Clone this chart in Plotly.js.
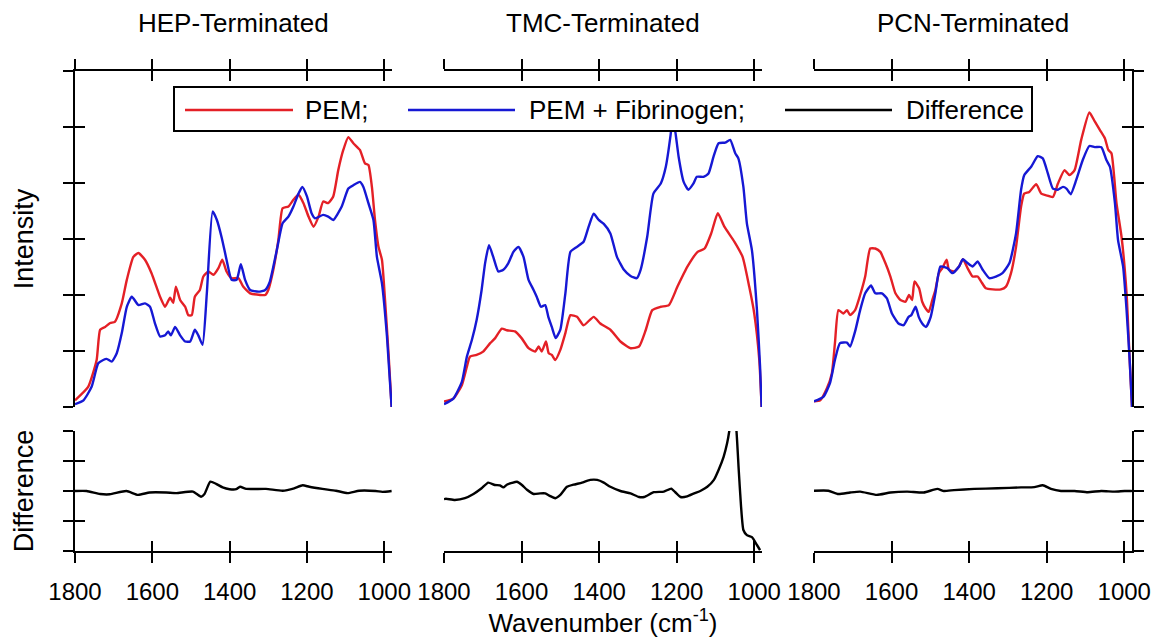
<!DOCTYPE html>
<html>
<head>
<meta charset="utf-8">
<script src="https://cdn.plot.ly/plotly-3.0.1.min.js"></script>
<style>html,body{margin:0;padding:0;background:#fff;}#chart{width:1158px;height:640px;}</style>
</head>
<body>
<div id="chart"></div>
<script>
// ---------- data ----------
const panelTitles = ["HEP-Terminated", "TMC-Terminated", "PCN-Terminated"];
const seriesNames = ["PEM;", "PEM + Fibrinogen;", "Difference"];
const xTickVals = [1800, 1600, 1400, 1200, 1000];
const xTickText = ["1800", "1600", "1400", "1200", "1000"];

const hepPemWn = [1800,1766,1744,1735,1722,1709,1697,1679,1666,1649,1636,1619,1602,1580,1567,1554,1546,1539,1528,1515,1507,1498,1490,1477,1468,1455,1442,1429,1419,1408,1395,1377,1365,1347,1321,1308,1300,1287,1274,1263,1248,1235,1222,1209,1196,1183,1170,1158,1145,1132,1119,1106,1093,1080,1063,1050,1041,1032,1024,1015,1006,998,989,981];
const hepPem = [0.12,0.36,0.84,1.38,1.43,1.50,1.52,1.85,2.27,2.68,2.75,2.63,2.39,1.97,1.79,1.95,1.86,2.15,1.91,1.79,1.64,1.64,1.97,2.09,2.33,2.42,2.36,2.48,2.63,2.42,2.30,2.30,2.15,2.03,2.00,2.00,2.09,2.45,2.98,3.55,3.58,3.70,3.79,3.64,3.40,3.22,3.40,3.67,3.64,3.76,4.23,4.59,4.82,4.71,4.59,4.35,4.32,3.93,3.34,2.86,2.63,1.91,0.96,0.0];
const hepFibWn = [1800,1778,1757,1740,1727,1718,1705,1692,1679,1666,1653,1636,1619,1606,1593,1580,1567,1559,1552,1541,1528,1515,1502,1490,1481,1470,1459,1444,1433,1420,1408,1395,1382,1371,1360,1347,1325,1308,1296,1278,1263,1248,1235,1222,1212,1200,1188,1179,1158,1145,1132,1110,1093,1080,1063,1054,1041,1028,1019,1006,993,981];
const hepFib = [0.05,0.12,0.36,0.78,0.84,0.86,0.81,0.96,1.32,1.79,1.97,1.82,1.85,1.79,1.49,1.26,1.28,1.35,1.28,1.43,1.28,1.17,1.17,1.38,1.28,1.11,2.03,3.49,3.34,3.01,2.63,2.27,2.27,2.55,2.27,2.09,2.06,2.09,2.24,2.80,3.28,3.40,3.58,3.81,3.93,3.76,3.46,3.37,3.43,3.40,3.34,3.58,3.90,3.96,4.02,3.93,3.64,3.34,2.68,2.21,1.26,0.0];
const hepDiffWn = [1800,1770,1735,1710,1667,1637,1607,1564,1538,1495,1474,1465,1450,1435,1418,1400,1383,1373,1357,1306,1263,1233,1211,1194,1160,1125,1095,1065,1022,1005,981];
const hepDiff = [0,0,-0.1,-0.11,0,-0.13,-0.05,-0.05,-0.07,-0.02,-0.19,-0.1,0.31,0.24,0.12,0.06,0.06,0.14,0.07,0.07,0.01,0.09,0.19,0.14,0.07,0.01,-0.07,0.01,0,-0.03,0];

const tmcPemWn = [1800,1776,1754,1741,1733,1716,1699,1681,1668,1651,1638,1617,1600,1582,1565,1556,1548,1537,1530,1522,1513,1500,1487,1474,1457,1440,1414,1397,1371,1345,1319,1297,1280,1263,1241,1220,1198,1172,1146,1128,1111,1094,1077,1051,1030,1013,1000,987,981];
const tmcPem = [0.10,0.15,0.39,0.72,0.90,0.93,0.99,1.14,1.23,1.40,1.37,1.35,1.23,1.05,0.99,1.08,0.99,1.17,0.96,0.93,0.84,1.02,1.32,1.64,1.61,1.46,1.61,1.49,1.38,1.17,1.05,1.08,1.37,1.73,1.79,1.82,2.15,2.51,2.77,2.83,3.10,3.46,3.22,2.95,2.68,2.15,1.67,0.84,0.0];
const tmcFibWn = [1800,1776,1754,1741,1728,1716,1703,1694,1684,1673,1660,1647,1634,1621,1608,1595,1582,1569,1561,1550,1539,1531,1522,1512,1500,1487,1474,1457,1440,1427,1414,1401,1388,1371,1354,1336,1319,1303,1293,1276,1260,1241,1228,1216,1210,1202,1195,1182,1170,1157,1148,1131,1118,1105,1092,1075,1062,1049,1041,1028,1019,1006,993,985,981];
const tmcFib = [0.05,0.15,0.45,0.90,1.20,1.55,2.09,2.57,2.89,2.68,2.42,2.45,2.57,2.77,2.86,2.68,2.27,2.09,1.97,1.79,1.82,1.61,1.43,1.23,1.38,2.03,2.77,2.86,2.95,3.22,3.45,3.34,3.27,3.10,2.68,2.45,2.34,2.30,2.45,3.04,3.81,3.99,4.29,4.84,5.20,4.84,4.47,4.02,3.88,3.99,4.11,4.11,4.17,4.47,4.71,4.72,4.77,4.53,4.44,3.93,3.28,2.80,1.73,0.72,0.0];
const tmcDiffWn = [1800,1795,1772,1746,1724,1703,1686,1669,1656,1647,1638,1625,1612,1599,1586,1569,1552,1539,1526,1513,1500,1483,1466,1444,1423,1405,1388,1371,1345,1319,1297,1284,1259,1233,1214,1203,1190,1173,1155,1138,1121,1104,1092,1079,1070,1064,1055,1046,1040,1034,1028,1019,1006,993,985];
const tmcDiff = [-0.27,-0.26,-0.30,-0.24,-0.10,0.09,0.28,0.20,0.19,0.12,0.21,0.27,0.31,0.20,0.04,-0.10,-0.08,-0.08,-0.17,-0.24,-0.13,0.14,0.21,0.28,0.37,0.37,0.28,0.14,0,-0.08,-0.20,-0.20,-0.04,-0.02,0.08,-0.05,-0.20,-0.18,-0.08,0.01,0.14,0.37,0.70,1.14,1.59,2.03,3.0,2.03,0.70,-0.52,-1.30,-1.47,-1.54,-1.80,-1.97];

const pcnPemWn = [1800,1784,1767,1754,1746,1737,1724,1715,1707,1694,1681,1668,1655,1642,1629,1616,1603,1590,1577,1564,1555,1547,1541,1529,1521,1512,1504,1495,1487,1478,1469,1458,1452,1439,1426,1416,1404,1391,1378,1369,1357,1339,1318,1305,1292,1279,1266,1258,1245,1227,1214,1201,1184,1171,1154,1141,1128,1111,1090,1076,1063,1050,1041,1033,1020,1007,994,986,980];
const pcnPem = [0.10,0.12,0.33,0.60,1.14,1.73,1.67,1.73,1.64,1.73,2.00,2.33,2.83,2.83,2.77,2.57,2.33,2.03,1.91,1.88,2.00,1.91,2.24,2.12,1.88,1.76,1.70,1.91,2.09,2.39,2.48,2.63,2.45,2.42,2.51,2.64,2.48,2.33,2.33,2.24,2.12,2.10,2.10,2.15,2.39,2.86,3.58,3.81,3.84,3.98,3.81,3.78,3.75,3.99,4.23,4.14,4.23,4.77,5.26,5.10,4.95,4.80,4.59,4.53,3.64,3.04,2.03,0.84,0.0];
const pcnFibWn = [1800,1776,1759,1746,1733,1715,1707,1694,1681,1668,1653,1642,1625,1612,1599,1582,1569,1556,1549,1538,1530,1521,1511,1499,1487,1474,1456,1443,1426,1416,1404,1391,1378,1365,1348,1331,1314,1296,1279,1266,1258,1240,1223,1210,1197,1184,1171,1158,1149,1138,1124,1107,1090,1076,1059,1046,1037,1024,1016,1003,994,986,980];
const pcnFib = [0.10,0.18,0.42,0.84,1.14,1.15,1.08,1.35,1.73,2.03,2.17,2.03,2.03,1.94,1.67,1.49,1.46,1.61,1.64,1.79,1.61,1.49,1.43,1.61,2.03,2.51,2.48,2.39,2.51,2.64,2.57,2.51,2.60,2.45,2.30,2.33,2.39,2.57,3.10,3.88,4.14,4.29,4.48,4.44,4.17,3.90,3.88,3.93,3.90,3.80,4.05,4.41,4.66,4.64,4.64,4.41,4.29,3.64,2.98,2.51,1.73,0.84,0.0];
const pcnDiffWn = [1800,1763,1737,1707,1681,1638,1603,1560,1517,1482,1465,1439,1387,1327,1266,1232,1210,1189,1163,1128,1094,1059,1025,999,981];
const pcnDiff = [0.01,0.01,-0.10,-0.05,-0.02,-0.13,-0.05,-0.02,-0.05,0.07,0,0.03,0.07,0.09,0.12,0.13,0.19,0.07,0,0,-0.04,0,-0.02,0,0];

// ---------- styling / layout ----------
const W = 1158, H = 640;
const RED = "rgb(228,32,38)", BLUE = "rgb(22,24,212)", BLACK = "#000";
const FONT = "Arial, 'Liberation Sans', sans-serif";
const px = v => v / W;
const py = v => 1 - v / H;

const panelPx = [[75, 392], [444, 762], [814, 1132]];
const topDom = [py(407), py(71)];
const botDom = [py(551), py(431)];
const xRange = [1800, 980];

const panels = [
  {pemWn: hepPemWn, pem: hepPem, fibWn: hepFibWn, fib: hepFib, diffWn: hepDiffWn, diff: hepDiff},
  {pemWn: tmcPemWn, pem: tmcPem, fibWn: tmcFibWn, fib: tmcFib, diffWn: tmcDiffWn, diff: tmcDiff},
  {pemWn: pcnPemWn, pem: pcnPem, fibWn: pcnFibWn, fib: pcnFib, diffWn: pcnDiffWn, diff: pcnDiff}
];

const LINE_W = 2.4;
const traces = [];
panels.forEach((p, i) => {
  const xt = i === 0 ? "x" : "x" + (i + 1);
  const yt = i === 0 ? "y" : "y" + (i + 1);
  const xb = "x" + (i + 4), yb = "y" + (i + 4);
  traces.push({type: "scatter", mode: "lines", name: seriesNames[0], x: p.pemWn, y: p.pem, xaxis: xt, yaxis: yt,
               line: {color: RED, width: LINE_W, shape: "spline", smoothing: 0.5}, showlegend: false, hoverinfo: "x+y"});
  traces.push({type: "scatter", mode: "lines", name: seriesNames[1], x: p.fibWn, y: p.fib, xaxis: xt, yaxis: yt,
               line: {color: BLUE, width: LINE_W, shape: "spline", smoothing: 0.5}, showlegend: false, hoverinfo: "x+y"});
  traces.push({type: "scatter", mode: "lines", name: seriesNames[2], x: p.diffWn, y: p.diff, xaxis: xb, yaxis: yb,
               line: {color: BLACK, width: LINE_W, shape: "spline", smoothing: 0.5}, showlegend: false, hoverinfo: "x+y"});
});

const axBase = {showgrid: false, zeroline: false, linecolor: BLACK, linewidth: 2, tickcolor: BLACK,
                tickwidth: 2, ticklen: 10, fixedrange: true};
const layout = {
  width: W, height: H, margin: {l: 0, r: 0, t: 0, b: 0},
  paper_bgcolor: "#fff", plot_bgcolor: "rgba(0,0,0,0)",
  font: {family: FONT, color: BLACK, size: 24},
  showlegend: false, hovermode: "closest",
  annotations: [], shapes: []
};

function axName(kind, n) { return kind + "axis" + (n === 1 ? "" : n); }
function axRef(kind, n) { return kind + (n === 1 ? "" : n); }
// empty carrier so that an overlay axis (used only for its inside ticks) gets drawn
function carrier(xa, ya) {
  traces.push({type: "scatter", mode: "lines", x: [], y: [], xaxis: xa, yaxis: ya, showlegend: false, hoverinfo: "skip"});
}

for (let i = 0; i < 3; i++) {
  const dom = [px(panelPx[i][0]), px(panelPx[i][1])];
  const nt = i + 1, nb = i + 4;
  // top x axis (spectra): ticks cross the line = outside ticks + inside-tick overlay
  layout[axName("x", nt)] = Object.assign({}, axBase, {domain: dom, range: xRange, anchor: axRef("y", nt),
    side: "top", showline: true, ticks: "outside", tickvals: xTickVals, showticklabels: false});
  layout[axName("x", nt + 6)] = Object.assign({}, axBase, {range: xRange, anchor: axRef("y", nt),
    overlaying: axRef("x", nt), side: "top", showline: false, ticks: "inside", tickvals: xTickVals, showticklabels: false});
  carrier(axRef("x", nt + 6), axRef("y", nt));
  // bottom x axis (difference)
  layout[axName("x", nb)] = Object.assign({}, axBase, {domain: dom, range: xRange, anchor: axRef("y", nb),
    side: "bottom", showline: true, ticks: "outside", tickvals: xTickVals, ticktext: xTickText,
    showticklabels: true, tickfont: {size: 24, family: FONT}, ticklabelstandoff: 8});
  layout[axName("x", nb + 6)] = Object.assign({}, axBase, {range: xRange, anchor: axRef("y", nb),
    overlaying: axRef("x", nb), side: "bottom", showline: false, ticks: "inside", tickvals: xTickVals, showticklabels: false});
  carrier(axRef("x", nb + 6), axRef("y", nb));

  // y axes
  const show = i !== 1;
  const side = i === 2 ? "right" : "left";
  layout[axName("y", nt)] = Object.assign({}, axBase, {domain: topDom, range: [0, 6], dtick: 1, tick0: 0,
    anchor: axRef("x", nt), side: side, showline: show, ticks: show ? "outside" : "", showticklabels: false});
  layout[axName("y", nb)] = Object.assign({}, axBase, {domain: botDom, range: [-2, 2], dtick: 1, tick0: 0,
    anchor: axRef("x", nb), side: side, showline: show, ticks: show ? "outside" : "", showticklabels: false});
}
// inside-tick overlays for the visible y axes
let yo = 7;
[[1, "left"], [3, "right"], [4, "left"], [6, "right"]].forEach(([n, side]) => {
  const isTop = n <= 3;
  layout[axName("y", yo)] = Object.assign({}, axBase, {range: isTop ? [0, 6] : [-2, 2], dtick: 1, tick0: 0,
    anchor: axRef("x", n), overlaying: axRef("y", n), side: side, showline: false, ticks: "inside", showticklabels: false});
  carrier(axRef("x", n), axRef("y", yo));
  yo++;
});

// axis titles
layout.yaxis.title = {text: "Intensity", font: {size: 27, family: FONT}, standoff: 22};
layout.yaxis4.title = {text: "Difference", font: {size: 27, family: FONT}, standoff: 22};
layout.xaxis5.title = {text: "Wavenumber (cm<sup>-1</sup>)", font: {size: 26, family: FONT}, standoff: 1};

// panel titles
panelTitles.forEach((t, i) => {
  layout.annotations.push({text: t, xref: "paper", yref: "paper", x: px((panelPx[i][0] + panelPx[i][1]) / 2),
    y: py(23), xanchor: "center", yanchor: "middle", showarrow: false, font: {size: 26, family: FONT, color: BLACK}});
});

// framed key across the top panels
layout.shapes.push({type: "rect", xref: "paper", yref: "paper", x0: px(174), x1: px(1032), y0: py(131), y1: py(87),
  line: {color: BLACK, width: 2}, fillcolor: "#fff", layer: "above"});
const keyLines = [[185, 293, RED], [408, 515, BLUE], [785, 892, BLACK]];
const keyText = [303, 527, 904];
keyLines.forEach(([a, b, c], k) => {
  layout.shapes.push({type: "line", xref: "paper", yref: "paper", x0: px(a), x1: px(b), y0: py(110), y1: py(110),
    line: {color: c, width: LINE_W}, layer: "above"});
  layout.annotations.push({text: seriesNames[k], xref: "paper", yref: "paper", x: px(keyText[k]), y: py(110),
    xanchor: "left", yanchor: "middle", showarrow: false, font: {size: 26, family: FONT, color: BLACK}});
});

Plotly.newPlot("chart", traces, layout, {displayModeBar: false});
</script>
</body>
</html>
